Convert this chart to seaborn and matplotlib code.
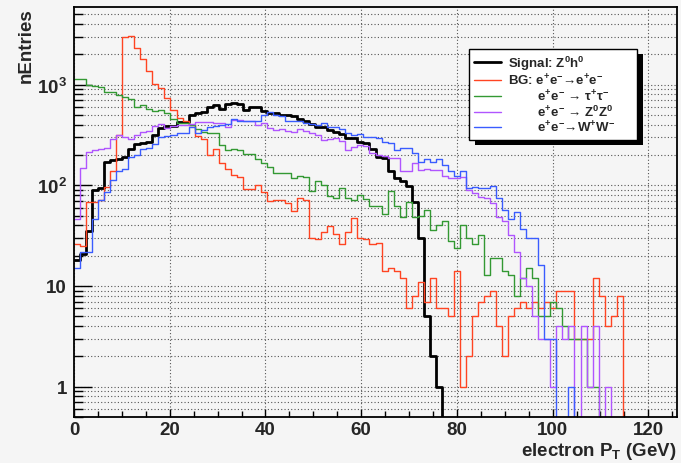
import numpy as np
import pandas as pd
import matplotlib
matplotlib.use('Agg')
import matplotlib.pyplot as plt
import seaborn as sns
from matplotlib.lines import Line2D
from matplotlib.patches import Rectangle
from matplotlib.ticker import MultipleLocator, LogLocator, NullFormatter

# 100 bins, 0 - 126 GeV
n_bins = 100
pt_range = (0, 126)

signal = [18, 21, 35, 90, 94, 172, 178, 184, 190, 227,
          259, 263, 272, 318, 367, 385, 385, 421, 426, 494,
          517, 535, 594, 621, 576, 639, 662, 639, 558, 594,
          594, 544, 526, 517, 503, 494, 485, 453, 440, 408,
          381, 376, 358, 335, 322, 295, 293, 267, 263, 231,
          190, 185, 138, 117, 110, 98, 68, 30, 5, 2,
          1, 0, 0, 0, 0, 0, 0, 0, 0, 0,
          0, 0, 0, 0, 0, 0, 0, 0, 0, 0,
          0, 0, 0, 0, 0, 0, 0, 0, 0, 0,
          0, 0, 0, 0, 0, 0, 0, 0, 0, 0]

bg_ee = [26, 25, 68, 68, 71, 97, 138, 313, 2950, 3070,
         2290, 1790, 1350, 1015, 935, 740, 565, 467, 440, 397,
         309, 291, 202, 228, 168, 144, 128, 120, 91, 92,
         101, 85, 70, 71, 71, 67, 55, 74, 71, 30,
         29, 34, 39, 33, 26, 34, 47, 30, 29, 26,
         27, 14, 15, 14, 12, 6, 8, 11, 7, 12,
         6, 6, 5, 14, 1, 2, 5, 7, 8, 9,
         4, 2, 5, 6, 7, 6, 7, 6, 7, 6,
         9, 9, 9, 3, 3, 3, 12, 8, 4, 5,
         8, 0, 0, 0, 0, 0, 0, 0, 0, 0]

bg_tautau = [1150, 1130, 990, 975, 948, 850, 850, 785, 749, 727,
             597, 633, 575, 552, 566, 521, 458, 419, 419, 397,
             361, 339, 327, 327, 250, 223, 228, 223, 206, 204,
             183, 165, 152, 134, 134, 131, 118, 125, 121, 87,
             110, 100, 78, 75, 94, 75, 71, 80, 73, 63,
             62, 52, 87, 63, 48, 68, 48, 50, 57, 36,
             40, 44, 28, 24, 40, 30, 26, 32, 13, 19,
             19, 14, 13, 8, 12, 15, 12, 5, 5, 7,
             6, 4, 3, 3, 3, 1, 1, 0, 0, 0,
             0, 0, 0, 0, 0, 0, 0, 0, 0, 0]

bg_zz = [46, 149, 213, 222, 231, 236, 286, 313, 304, 286,
         318, 336, 345, 385, 403, 367, 385, 394, 399, 403,
         421, 426, 421, 417, 417, 381, 448, 444, 440, 440,
         397, 417, 370, 351, 365, 343, 338, 360, 343, 327,
         313, 280, 291, 293, 274, 222, 240, 250, 245, 209,
         200, 195, 187, 187, 138, 138, 165, 141, 144, 141,
         141, 125, 118, 117, 121, 89, 84, 76, 75, 67,
         49, 44, 32, 22, 12, 10, 5, 3, 3, 1,
         4, 3, 4, 0, 4, 1, 4, 0, 1, 0,
         0, 0, 0, 0, 0, 0, 0, 0, 0, 0]

bg_ww = [15, 22, 22, 46, 71, 85, 112, 140, 144, 190,
         200, 231, 236, 259, 304, 309, 313, 327, 327, 381,
         331, 351, 376, 385, 397, 408, 451, 440, 440, 440,
         440, 495, 534, 503, 485, 431, 431, 431, 419, 408,
         397, 419, 377, 377, 365, 327, 313, 322, 302, 304,
         293, 267, 265, 222, 235, 235, 211, 170, 184, 170,
         184, 160, 140, 125, 138, 93, 96, 93, 93, 98,
         74, 57, 46, 54, 37, 30, 30, 16, 3, 3,
         0, 0, 1, 0, 0, 0, 0, 0, 0, 0,
         0, 0, 0, 0, 0, 0, 0, 0, 0, 0]

labels = ['Signal: Z$^{0}$h$^{0}$',
          'BG: e$^{+}$e$^{-}$\u2192e$^{+}$e$^{-}$',
          '        e$^{+}$e$^{-}$ \u2192 \u03c4$^{+}$\u03c4$^{-}$',
          '        e$^{+}$e$^{-}$ \u2192 Z$^{0}$Z$^{0}$',
          '        e$^{+}$e$^{-}$\u2192W$^{+}$W$^{-}$']
series = [signal, bg_ee, bg_tautau, bg_zz, bg_ww]
colors = ['black', '#ff4422', '#339933', '#b055ff', '#3a5cff']
widths = [2.0, 1.0, 1.0, 1.0, 1.0]

edges = np.linspace(pt_range[0], pt_range[1], n_bins + 1)
centers = 0.5 * (edges[:-1] + edges[1:])
df = pd.DataFrame({
    'pt': np.tile(centers, len(series)),
    'entries': np.concatenate(series).astype(float),
    'sample': np.repeat(labels, len(centers)),
})

sns.set_style('ticks')
plt.rcParams['font.family'] = ['Liberation Sans', 'DejaVu Sans']
plt.rcParams['font.weight'] = 'bold'
plt.rcParams['mathtext.fontset'] = 'custom'
plt.rcParams['mathtext.rm'] = 'Liberation Sans:bold'
plt.rcParams['mathtext.it'] = 'Liberation Sans:bold'
plt.rcParams['mathtext.bf'] = 'Liberation Sans:bold'
plt.rcParams['mathtext.default'] = 'rm'

bg = '#f5f5f5'
fig, ax = plt.subplots(figsize=(6.81, 4.64), dpi=100)
fig.patch.set_facecolor(bg)
ax.set_facecolor(bg)
fig.subplots_adjust(left=74/681, right=677/681, bottom=1-418/464, top=1-8/464)

for lab, col, lw in zip(labels, colors, widths):
    sub = df[df['sample'] == lab]
    sns.histplot(data=sub, x='pt', weights='entries', bins=n_bins,
                 binrange=pt_range, element='step', fill=False,
                 color=col, linewidth=lw, ax=ax)

ax.set_yscale('log')
ax.set_xlim(*pt_range)
ax.set_ylim(0.5, 5900)

ax.xaxis.set_major_locator(MultipleLocator(20))
ax.xaxis.set_minor_locator(MultipleLocator(5))
ax.set_yticks([1, 10, 100, 1000], labels=['1', '10', '10$^{2}$', '10$^{3}$'])
ax.yaxis.set_minor_locator(LogLocator(base=10, subs=np.arange(2, 10) * 1.0, numticks=50))
ax.yaxis.set_minor_formatter(NullFormatter())

ax.tick_params(which='both', direction='in', top=False, right=False,
               width=1, color='black')
ax.tick_params(axis='x', which='major', length=6, pad=3, labelsize=13.5)
ax.tick_params(axis='x', which='minor', length=4)
ax.tick_params(axis='y', which='major', length=13, pad=5, labelsize=13.5)
ax.tick_params(axis='y', which='minor', length=6.5)

ax.set_axisbelow(True)
grid_kw = dict(linestyle=(0, (1, 2)), color='#555555', linewidth=0.8)
ax.xaxis.grid(True, which='major', **grid_kw)
ax.yaxis.grid(True, which='both', **grid_kw)

for sp in ax.spines.values():
    sp.set_visible(True)
    sp.set_linewidth(1.3)
    sp.set_color('black')

ax.set_xlabel('electron P$_{T}$ (GeV)', loc='right', fontsize=13.5,
              fontweight='bold', labelpad=1)
ax.set_ylabel('nEntries', loc='top', fontsize=13.5, fontweight='bold', labelpad=2)

# figure-level legend so the black shadow box can sit between axes and legend
handles = [Line2D([], [], color=c, lw=w) for c, w in zip(colors, widths)]
leg = fig.legend(handles, labels, loc='upper left',
                 bbox_to_anchor=(469/681, 1-137/464, 168/681, 87/464),
                 bbox_transform=fig.transFigure, mode='expand', borderaxespad=0,
                 prop={'size': 9.5, 'weight': 'bold'}, handlelength=2.1,
                 handletextpad=0.5, borderpad=0.35, labelspacing=0.04,
                 frameon=True, fancybox=False, edgecolor='black',
                 facecolor='white', framealpha=1)
leg.get_frame().set_linewidth(1.0)
leg.set_zorder(20)

fig.canvas.draw()
bb = leg.get_frame().get_window_extent().transformed(fig.transFigure.inverted())
shadow = Rectangle((bb.x0 + 6/681, bb.y0 - 5/464), bb.width, bb.height,
                   transform=fig.transFigure, facecolor='black',
                   edgecolor='black', linewidth=0, zorder=10)
fig.add_artist(shadow)

fig.savefig('out.png', dpi=100, facecolor=bg)
